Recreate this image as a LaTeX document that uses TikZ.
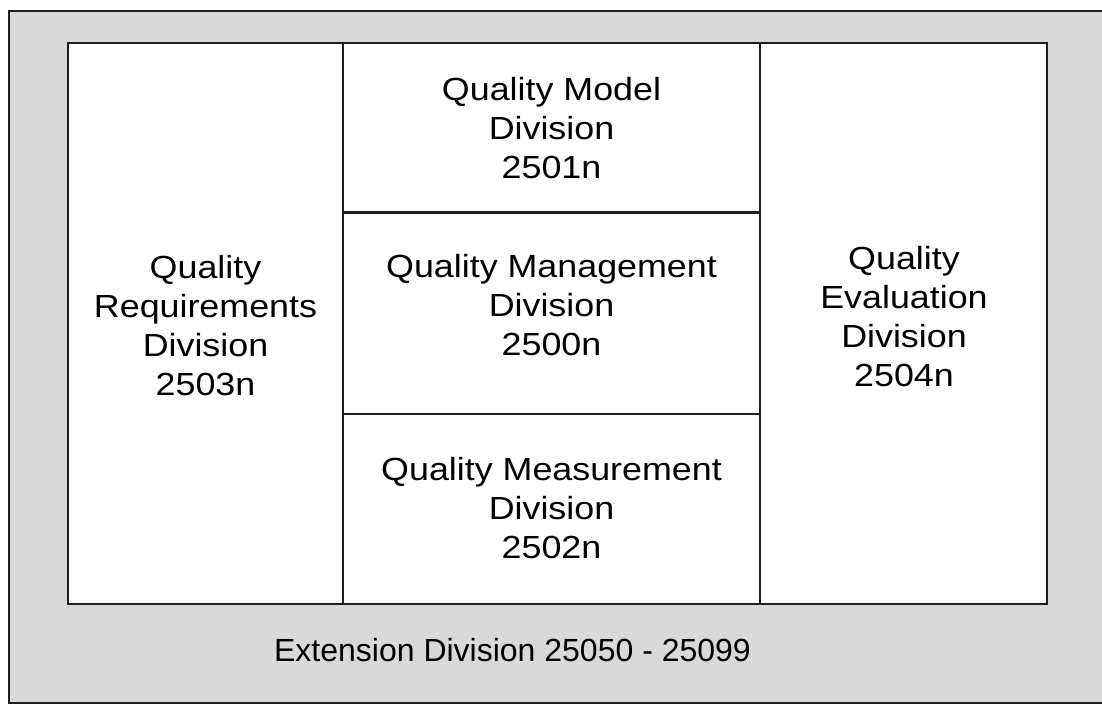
\documentclass[tikz,border=0pt]{standalone}
\usepackage{fontspec}
\setmainfont{Liberation Sans}
\newfontfamily\cellfont[FakeStretch=1.12]{Liberation Sans}
\definecolor{panelgray}{RGB}{217,217,217}
\definecolor{edgecol}{RGB}{30,30,30}
\begin{document}
\begin{tikzpicture}[x=1pt,y=-1pt,
  frame/.style={draw=edgecol,line width=2.2pt},
  lbl/.style={align=center,inner sep=0pt,font=\cellfont\fontsize{32}{39}\selectfont,text=black},
  extlbl/.style={inner sep=0pt,font=\fontsize{32}{39}\selectfont,text=black}]
\useasboundingbox (0,0) rectangle (1102,717);
\clip (0,0) rectangle (1102,717);
% outer panel
\draw[frame,fill=panelgray] (9,11) rectangle (1120,703);
% inner white area
\draw[frame,fill=white] (68,43) rectangle (1047,604);
% dividers
\draw[frame] (343,43) -- (343,604);
\draw[frame] (760,43) -- (760,604);
\draw[frame] (343,212.5) -- (760,212.5);
\draw[frame] (343,414) -- (760,414);
% labels
\node[lbl] (req) at (205.5,326) {Quality\\Requirements\\Division\\2503n};
\node[lbl] (model) at (551.5,128) {Quality Model\\Division\\2501n};
\node[lbl] (mgmt) at (551.5,305.5) {Quality Management\\Division\\2500n};
\node[lbl] (meas) at (551.5,508) {Quality Measurement\\Division\\2502n};
\node[lbl] (eval) at (904,317) {Quality\\Evaluation\\Division\\2504n};
\node[extlbl] (ext) at (512.5,650) {Extension Division 25050 - 25099};
\end{tikzpicture}
\end{document}
